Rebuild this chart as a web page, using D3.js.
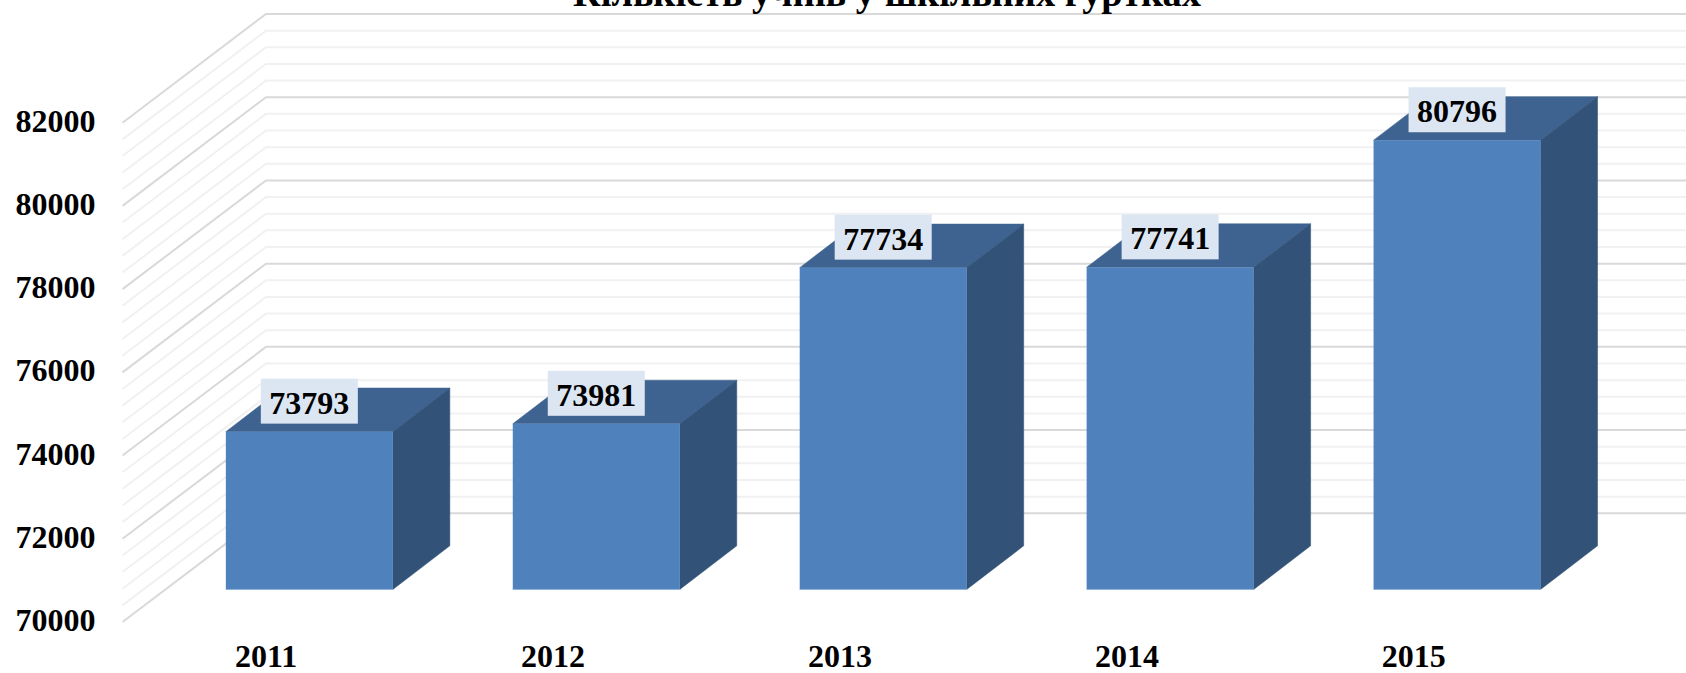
<!DOCTYPE html>
<html><head><meta charset="utf-8">
<script src="https://cdnjs.cloudflare.com/ajax/libs/d3/7.8.5/d3.min.js"></script>
<style>html,body{margin:0;padding:0;background:#fff;overflow:hidden}svg{display:block}
text{font-family:"Liberation Serif","Times New Roman",serif;font-weight:bold;fill:#000}</style>
</head><body><svg id="c" width="1686" height="673"></svg>
<script>
const categories = ["2011","2012","2013","2014","2015"];
const values = [73793,73981,77734,77741,80796];
const yTicks = [70000,72000,74000,76000,78000,80000,82000];
const minorStep = 400;
const titleText = "Кількість учнів у шкільних гуртках";

const svg = d3.select("#c");
const wallDx = 143.5, wallDy = 108.7;
const barDepthDx = 57, barDepthDy = 43.6;
const frontDx = (wallDx-barDepthDx)/2, frontDy = (wallDy-barDepthDy)/2;
const y = d3.scaleLinear().domain([70000,82000]).range([622,122.7]);
const x = d3.scaleBand().domain(categories).range([123.2,1556.7]).paddingInner(0.418).paddingOuter(0.207);
const minor = d3.range(70000,82001,minorStep).filter(v=>!yTicks.includes(v));

function grid(vals,color,w){
  svg.append("g").selectAll("path").data(vals).join("path")
    .attr("fill","none").attr("stroke",color).attr("stroke-width",w)
    .attr("d",v=>{const p=d3.path();p.moveTo(122.5,y(v));p.lineTo(122.5+wallDx,y(v)-wallDy);p.lineTo(1686,y(v)-wallDy);return p;});
}
grid(minor,"#f1f1f1",2);
grid(yTicks,"#d9d9d9",2);

const bars = svg.append("g").selectAll("g").data(categories).join("g");
const fx = c => x(c)+frontDx;
const bw = x.bandwidth();
const val = i => y(values[i])-frontDy;
const base = y(70000)-frontDy;
bars.append("path").attr("fill","#3e6390").attr("stroke","#3e6390").attr("stroke-width",.5)
  .attr("d",(c,i)=>{const t=val(i),l=fx(c);return `M${l},${t}L${l+barDepthDx},${t-barDepthDy}L${l+bw+barDepthDx},${t-barDepthDy}L${l+bw},${t}Z`;});
bars.append("path").attr("fill","#325278").attr("stroke","#325278").attr("stroke-width",.5)
  .attr("d",(c,i)=>{const t=val(i),l=fx(c)+bw;return `M${l},${t}L${l+barDepthDx},${t-barDepthDy}L${l+barDepthDx},${base-barDepthDy}L${l},${base}Z`;});
bars.append("rect").attr("fill","#4f81bd").attr("x",c=>fx(c)).attr("width",bw)
  .attr("y",(c,i)=>val(i)).attr("height",(c,i)=>base-val(i));
bars.append("path").attr("stroke","#8db0da").attr("stroke-width",1).attr("fill","none")
  .attr("d",c=>`M${fx(c)},${base}H${fx(c)+bw}`);

const labels = svg.append("g").selectAll("g").data(categories).join("g")
  .attr("transform",(c,i)=>`translate(${fx(c)+bw/2},${val(i)-30.5})`);
labels.append("rect").attr("x",-48.5).attr("y",-22.5).attr("width",97).attr("height",45).attr("fill","#dce6f2");
labels.append("text").attr("text-anchor","middle").attr("y",12.5).style("font-size","32px").text((c,i)=>values[i]);

svg.append("g").selectAll("text").data(yTicks).join("text")
  .attr("x",95.5).attr("y",v=>y(v)+9).attr("text-anchor","end").style("font-size","32px").text(v=>v);
svg.append("g").selectAll("text").data(categories).join("text")
  .attr("x",c=>x(c)+bw/2).attr("y",667).attr("text-anchor","middle").style("font-size","32px").text(c=>c);

svg.append("text").attr("x",887).attr("y",6).attr("text-anchor","middle").style("font-size","38.4px").text(titleText);
</script></body></html>
